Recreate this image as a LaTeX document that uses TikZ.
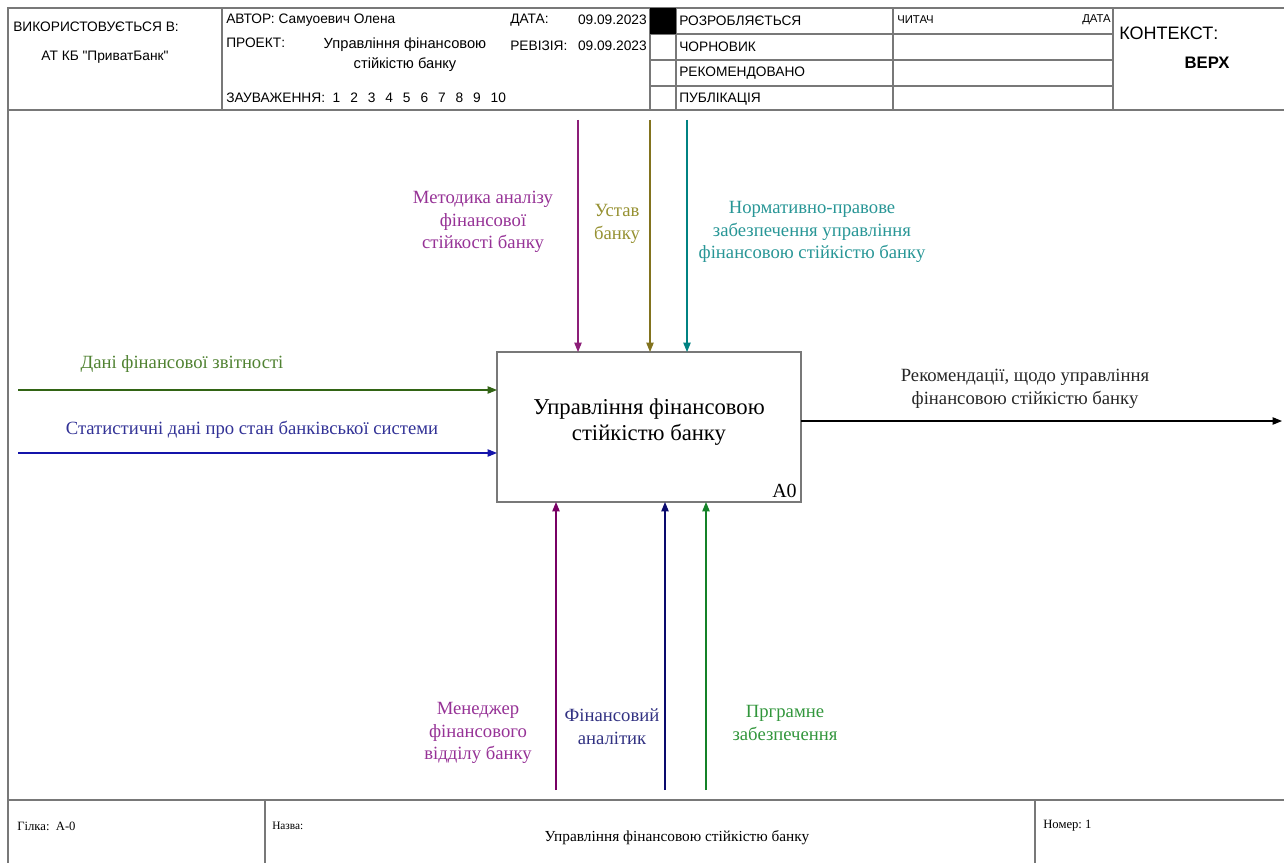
\documentclass[tikz,border=0pt]{standalone}
\usepackage{fontspec}
\setmainfont{Liberation Serif}
\newfontfamily\hdr{Liberation Sans}
\usetikzlibrary{arrows.meta}
\definecolor{frameC}{RGB}{120,120,120}
\definecolor{cMet}{RGB}{140,30,120}
\definecolor{tMet}{RGB}{150,50,150}
\definecolor{cUst}{RGB}{130,115,30}
\definecolor{tUst}{RGB}{150,145,50}
\definecolor{cNorm}{RGB}{0,130,130}
\definecolor{tNorm}{RGB}{40,150,150}
\definecolor{cDani}{RGB}{50,100,20}
\definecolor{tDani}{RGB}{80,130,50}
\definecolor{cStat}{RGB}{20,20,170}
\definecolor{tStat}{RGB}{50,50,150}
\definecolor{cMen}{RGB}{120,0,100}
\definecolor{tMen}{RGB}{150,50,150}
\definecolor{cFin}{RGB}{10,10,110}
\definecolor{tFin}{RGB}{50,50,130}
\definecolor{cProg}{RGB}{20,130,40}
\definecolor{tProg}{RGB}{50,150,60}
\begin{document}
\begin{tikzpicture}[x=0.75pt,y=-0.75pt,
  frame/.style={draw=frameC,line width=1pt},
  flow/.style={line width=0.8pt,-{Triangle[length=7pt,width=5.5pt]}},
  lbl/.style={align=center,font=\fontsize{14}{17}\selectfont,inner sep=0pt},
  hd/.style={font=\hdr\fontsize{10.3}{11}\selectfont,inner sep=0pt,anchor=west},
  hs/.style={font=\hdr\fontsize{8.5}{9}\selectfont,inner sep=0pt,anchor=west},
  ft/.style={font=\fontsize{9.5}{11}\selectfont,inner sep=0pt,anchor=west}]
\useasboundingbox (0,0) rectangle (1284,863);
% frame
\draw[frame] (8,863) -- (8,8) -- (1284,8);
\draw[frame] (8,110) -- (1284,110);
\draw[frame] (8,800) -- (1284,800);
\foreach \x in {222,650,676,893,1113} \draw[frame] (\x,8) -- (\x,110);
\foreach \y in {34,60,86} \draw[frame] (650,\y) -- (1113,\y);
\fill (650,8) rectangle (676,34);
\draw[frame] (265,800) -- (265,863);
\draw[frame] (1035,800) -- (1035,863);
% header texts
\node[hd] (h1) at (13,27) {ВИКОРИСТОВУЄТЬСЯ В:};
\node[hd,anchor=center] (h2) at (105,57) {АТ КБ "ПриватБанк"};
\node[hd] (h3) at (226,20) {АВТОР: Самуоевич Олена};
\node[hd] (h4) at (226,43) {ПРОЕКТ:};
\node[hd,anchor=center,align=center,font=\hdr\fontsize{11}{15}\selectfont] (h5) at (405,55) {Управління фінансовою\\стійкістю банку};
\node[hd] (h6) at (226,98) {ЗАУВАЖЕННЯ:\ \ 1\ \ \,2\ \ \,3\ \ \,4\ \ \,5\ \ \,6\ \ \,7\ \ \,8\ \ \,9\ \ \,10};
\node[hd] (h7) at (510,20) {ДАТА:};
\node[hd,anchor=east] (h8) at (647,20) {09.09.2023};
\node[hd] (h9) at (510,46) {РЕВІЗІЯ:};
\node[hd,anchor=east] (h10) at (647,46) {09.09.2023};
\node[hd] (s1) at (679,21) {РОЗРОБЛЯЄТЬСЯ};
\node[hd] (s2) at (679,47) {ЧОРНОВИК};
\node[hd] (s3) at (679,73) {РЕКОМЕНДОВАНО};
\node[hd] (s4) at (679,99) {ПУБЛІКАЦІЯ};
\node[hs] (r1) at (897,20) {ЧИТАЧ};
\node[hs,anchor=east] (r2) at (1111,20) {ДАТА};
\node[hd,font=\hdr\fontsize{13.5}{14}\selectfont] (k1) at (1119,33) {КОНТЕКСТ:};
\node[hd,anchor=center,font=\hdr\bfseries\fontsize{12.5}{13}\selectfont] (k2) at (1207,63) {ВЕРХ};
% footer
\node[ft] (f1) at (17,826) {Гілка:\ \ А-0};
\node[ft,font=\fontsize{8.5}{10}\selectfont] (f2) at (272,826) {Назва:};
\node[ft,anchor=center,font=\fontsize{11.5}{12}\selectfont] (f3) at (677,838) {Управління фінансовою стійкістю банку};
\node[ft] (f4) at (1043,826) {Номер:\ 1};
% main box
\node[draw=frameC,line width=1pt,minimum width=228pt,minimum height=112.5pt,inner sep=0pt,outer sep=0pt] (box) at (649,427) {};
\node[align=center,font=\fontsize{17}{19}\selectfont,inner sep=0pt] (boxt) at (649,422) {Управління фінансовою\\стійкістю банку};
\node[anchor=south east,font=\fontsize{15}{16}\selectfont,inner sep=0pt] (a0) at (797,498) {A0};
% controls
\coordinate (c1) at (578,120);
\coordinate (c2) at (650,120);
\coordinate (c3) at (687,120);
\draw[flow,cMet] (c1) -- (c1 |- box.north);
\draw[flow,cUst] (c2) -- (c2 |- box.north);
\draw[flow,cNorm] (c3) -- (c3 |- box.north);
% inputs
\coordinate (i1) at (18,390);
\coordinate (i2) at (18,453);
\draw[flow,cDani] (i1) -- (i1 -| box.west);
\draw[flow,cStat] (i2) -- (i2 -| box.west);
% output
\coordinate (o1) at (1282,421);
\draw[flow,black] (box.east |- o1) -- (o1);
% mechanisms
\coordinate (m1) at (556,790);
\coordinate (m2) at (665,790);
\coordinate (m3) at (706,790);
\draw[flow,cMen] (m1) -- (m1 |- box.south);
\draw[flow,cFin] (m2) -- (m2 |- box.south);
\draw[flow,cProg] (m3) -- (m3 |- box.south);
% labels
\node[lbl,text=tMet] (l1) at (483,222) {Методика аналізу\\фінансової\\стійкості банку};
\node[lbl,text=tUst] (l2) at (617,224) {Устав\\банку};
\node[lbl,text=tNorm] (l3) at (812,232) {Нормативно-правове\\забезпечення управління\\фінансовою стійкістю банку};
\node[lbl,text=tDani] (l4) at (182,364) {Дані фінансової звітності};
\node[lbl,text=tStat] (l5) at (252,430) {Статистичні дані про стан банківської системи};
\node[lbl,text=black!85] (l6) at (1025,389) {Рекомендації, щодо управління\\фінансовою стійкістю банку};
\node[lbl,text=tMen] (l7) at (478,733) {Менеджер\\фінансового\\відділу банку};
\node[lbl,text=tFin] (l8) at (612,727) {Фінансовий\\аналітик};
\node[lbl,text=tProg] (l9) at (785,723) {Прграмне\\забезпечення};
\end{tikzpicture}
\end{document}
